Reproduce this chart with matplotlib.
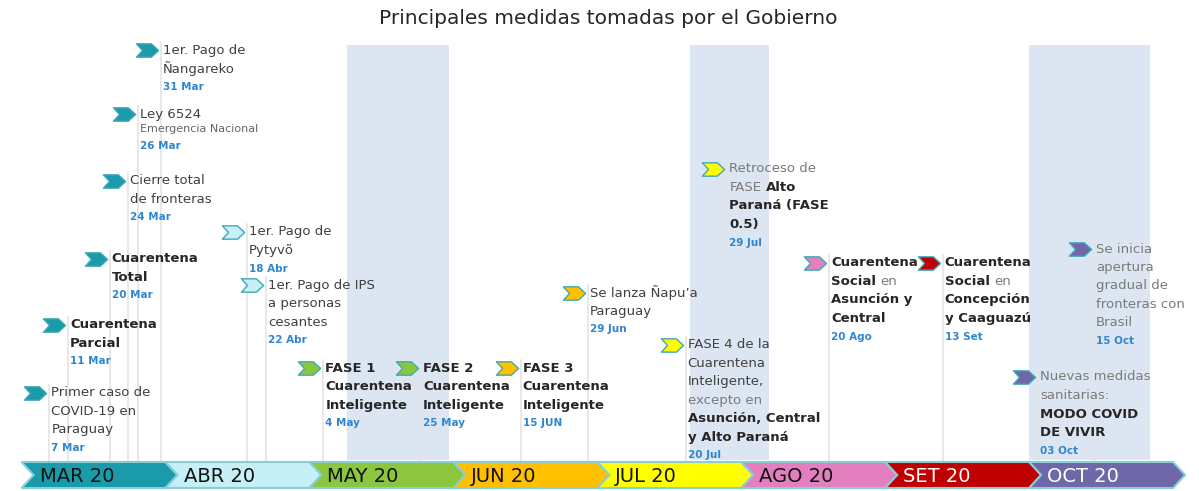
import re
import calendar
from datetime import date
import matplotlib
matplotlib.use('Agg')
import matplotlib.pyplot as plt
from matplotlib.path import Path
from matplotlib.patches import Polygon, Rectangle

'data'
months = ['MAR 20', 'ABR 20', 'MAY 20', 'JUN 20', 'JUL 20', 'AGO 20', 'SET 20', 'OCT 20']

event_dates = ['2020-03-07', '2020-03-11', '2020-03-20', '2020-03-24', '2020-03-26',
               '2020-03-31', '2020-04-18', '2020-04-22', '2020-05-04', '2020-05-25',
               '2020-06-15', '2020-06-29', '2020-07-20', '2020-07-29', '2020-08-20',
               '2020-09-13', '2020-10-03', '2020-10-15']

date_labels = ['7 Mar', '11 Mar', '20 Mar', '24 Mar', '26 Mar', '31 Mar', '18 Abr', '22 Abr',
               '4 May', '25 May', '15 JUN', '29 Jun', '20 Jul', '29 Jul', '20 Ago', '13 Set',
               '03 Oct', '15 Oct']

# **bold**, _light_, ~ = small line
event_texts = [
    'Primer caso de\nCOVID-19 en\nParaguay',
    '**Cuarentena**\n**Parcial**',
    '**Cuarentena**\n**Total**',
    'Cierre total\nde fronteras',
    'Ley 6524\n~Emergencia Nacional',
    '1er. Pago de\nÑangareko',
    '1er. Pago de\nPytyvõ',
    '1er. Pago de IPS\na personas\ncesantes',
    '**FASE 1**\n**Cuarentena**\n**Inteligente**',
    '**FASE 2**\n**Cuarentena**\n**Inteligente**',
    '**FASE 3**\n**Cuarentena**\n**Inteligente**',
    'Se lanza Ñapu’a\nParaguay',
    'FASE 4 de la\nCuarentena\nInteligente,\n_excepto en_\n**Asunción, Central**\n**y Alto Paraná**',
    '_Retroceso de_\n_FASE_ **Alto**\n**Paraná (FASE**\n**0.5)**',
    '**Cuarentena**\n**Social** _en_\n**Asunción y**\n**Central**',
    '**Cuarentena**\n**Social** _en_\n**Concepción**\n**y Caaguazú**',
    '_Nuevas medidas_\n_sanitarias:_\n**MODO COVID**\n**DE VIVIR**',
    '_Se inicia_\n_apertura_\n_gradual de_\n_fronteras con_\n_Brasil_',
]

band_periods = [('2020-05-09', '2020-05-31'), ('2020-07-21', '2020-08-07'),
                ('2020-10-01', '2020-10-27')]

'layout / style'
label_rows = [393, 325, 259, 181, 114, 50, 232, 285, 368, 368, 368, 293, 345, 169, 263, 263, 377, 249]
month_colors = ['#1b9aaa', '#c6eff6', '#8cc63f', '#ffc000', '#ffff00', '#e37fbf', '#c00000', '#6e68a8']
month_text_colors = ['#111111'] * 6 + ['white', 'white']
REG, BOLD, LIGHT = '#404040', '#262626', '#7a7a7a'
DATE_COL = '#2f86d0'
FS = 9.5
ROW = 18.5

W, H = 1199, 491
xmin, xmax = -0.15, 8.18
PX = W / (xmax - xmin)          # pixels per month unit

plt.rcParams['font.family'] = 'DejaVu Sans'
fig = plt.figure(figsize=(W / 100, H / 100), dpi=100)
ax = fig.add_axes([0, 0, 1, 1])
ax.set_xlim(xmin, xmax)
ax.set_ylim(H, 0)
ax.axis('off')


def month_pos(s):
    d = date.fromisoformat(s)
    ndays = calendar.monthrange(d.year, d.month)[1]
    return (d.month - 3) + (d.day - 1) / ndays


def rich_line(x, y, line, size, default=REG):
    parts = re.findall(r'\*\*(.+?)\*\*|_(.+?)_|([^*_]+)', line)
    prev = None
    for b, l, r in parts:
        if b:
            txt, w, c = b, 'bold', BOLD
        elif l:
            txt, w, c = l, 'normal', LIGHT
        else:
            txt, w, c = r.strip(), 'normal', default
        if not txt:
            continue
        kw = dict(fontsize=size, fontweight=w, color=c, va='center', ha='left', zorder=5)
        if prev is None:
            prev = ax.text(x, y, txt, **kw)
        else:
            prev = ax.annotate(txt, xy=(1, 0.5), xycoords=prev, xytext=(size * 0.32, 0),
                               textcoords='offset points', **kw)


'shaded periods'
for a, b in band_periods:
    x0, x1 = month_pos(a), month_pos(b)
    ax.add_patch(Rectangle((x0, 45), x1 - x0, 415, color='#dce6f2', lw=0, zorder=0))

'month bar'
top, bot = 462, 488
mid = (top + bot) / 2
tip = 12 / PX
for i, m in enumerate(months):
    pts = [(i, top), (i + 1, top), (i + 1 + tip, mid), (i + 1, bot), (i, bot), (i + tip, mid)]
    ax.add_patch(Polygon(pts, closed=True, fc=month_colors[i], ec='#86cfd9', lw=1.5, zorder=3))
    ax.text(i + tip + 6 / PX, mid + 1, m, fontsize=14, color=month_text_colors[i],
            va='center', ha='left', zorder=4)

'chevron marker'
cv = [(-1, 0.6), (0.35, 0.6), (1, 0), (0.35, -0.6), (-1, -0.6), (-0.45, 0), (-1, 0.6)]
chev = Path(cv, [Path.MOVETO] + [Path.LINETO] * 5 + [Path.CLOSEPOLY])

'events'
for d, txt, lab, row in zip(event_dates, event_texts, date_labels, label_rows):
    x = month_pos(d)
    ci = date.fromisoformat(d).month - 3
    ax.plot([x, x], [row - 8, top - 1], color='#e4e4e4', lw=1.2, zorder=1)
    ax.plot(x - 14 / PX, row, marker=chev, markersize=16, color=month_colors[ci],
            mec='#3fa9b8', mew=1, zorder=6)
    y = row
    tx = x + 2 / PX
    last_small = False
    for k, line in enumerate(txt.split('\n')):
        if line.startswith('~'):
            y += 15 if k else 0
            ax.text(tx, y, line[1:], fontsize=8, color='#666666', va='center', ha='left', zorder=5)
            last_small = True
        else:
            y += ROW if k else 0
            rich_line(tx, y, line, FS)
            last_small = False
    y += 17 if last_small else 18
    ax.text(tx, y, lab, fontsize=7.5, fontweight='bold', color=DATE_COL, va='center',
            ha='left', zorder=5)

fig.text(0.507, 1 - 18 / H, 'Principales medidas tomadas por el Gobierno', ha='center',
         va='center', fontsize=14.5, color='#262626')

fig.savefig('out.png', dpi=100)
